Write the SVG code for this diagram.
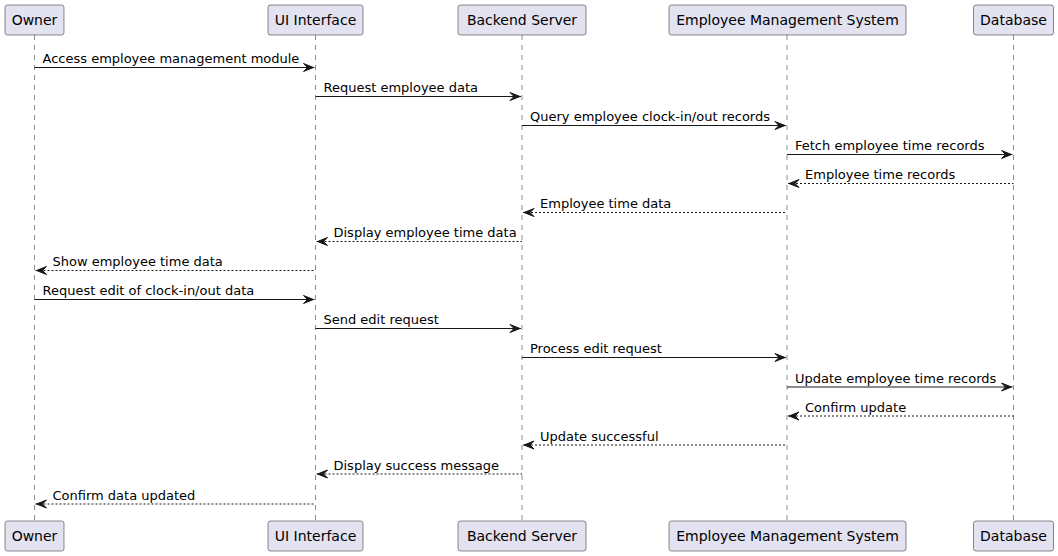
<svg xmlns="http://www.w3.org/2000/svg" width="1058" height="556" viewBox="0 0 1058 556">
<style>
.box{fill:#E2E2F0;stroke:#181818;stroke-width:0.5}
.life{stroke:#181818;stroke-width:0.5;stroke-dasharray:5,5;fill:none}
.pt{font-family:"DejaVu Sans",sans-serif;font-size:14px;fill:#000;text-anchor:middle}
.mt{font-family:"DejaVu Sans",sans-serif;font-size:13px;fill:#000}
.s{stroke:#181818;stroke-width:1;fill:none}
.d{stroke:#181818;stroke-width:1;fill:none;stroke-dasharray:2,2}
.ah{fill:#181818;stroke:#181818;stroke-width:1}
</style>
<rect width="1058" height="556" fill="#FFFFFF"/>
<g id="lifelines">
<line class="life" x1="34.5" y1="35" x2="34.5" y2="521"/>
<line class="life" x1="315.5" y1="35" x2="315.5" y2="521"/>
<line class="life" x1="522" y1="35" x2="522" y2="521"/>
<line class="life" x1="787" y1="35" x2="787" y2="521"/>
<line class="life" x1="1013.5" y1="35" x2="1013.5" y2="521"/>
</g>
<g id="owner">
<rect class="box" x="5" y="5" width="59" height="30" rx="2.5"/>
<text class="pt" x="34.5" y="25">Owner</text>
<rect class="box" x="5" y="521" width="59" height="30" rx="2.5"/>
<text class="pt" x="34.5" y="541">Owner</text>
</g>
<g id="ui">
<rect class="box" x="268" y="5" width="95" height="30" rx="2.5"/>
<text class="pt" x="315.5" y="25">UI Interface</text>
<rect class="box" x="268" y="521" width="95" height="30" rx="2.5"/>
<text class="pt" x="315.5" y="541">UI Interface</text>
</g>
<g id="backend">
<rect class="box" x="458" y="5" width="128" height="30" rx="2.5"/>
<text class="pt" x="522" y="25">Backend Server</text>
<rect class="box" x="458" y="521" width="128" height="30" rx="2.5"/>
<text class="pt" x="522" y="541">Backend Server</text>
</g>
<g id="ems">
<rect class="box" x="669" y="5" width="237" height="30" rx="2.5"/>
<text class="pt" x="787.5" y="25">Employee Management System</text>
<rect class="box" x="669" y="521" width="237" height="30" rx="2.5"/>
<text class="pt" x="787.5" y="541">Employee Management System</text>
</g>
<g id="database">
<rect class="box" x="973.5" y="5" width="80" height="30" rx="2.5"/>
<text class="pt" x="1013.5" y="25">Database</text>
<rect class="box" x="973.5" y="521" width="80" height="30" rx="2.5"/>
<text class="pt" x="1013.5" y="541">Database</text>
</g>
<g id="connectors">
<line class="s" x1="34.5" y1="67.5" x2="314.5" y2="67.5"/><polygon class="ah" points="303.5,63.5 313.5,67.5 303.5,71.5 307.5,67.5"/>
<text class="mt" x="42.5" y="63">Access employee management module</text>

<line class="s" x1="315.5" y1="96.5" x2="521" y2="96.5"/><polygon class="ah" points="510,92.5 520,96.5 510,100.5 514,96.5"/>
<text class="mt" x="323.5" y="92">Request employee data</text>

<line class="s" x1="522" y1="125.5" x2="786" y2="125.5"/><polygon class="ah" points="775,121.5 785,125.5 775,129.5 779,125.5"/>
<text class="mt" x="530" y="121">Query employee clock-in/out records</text>

<line class="s" x1="787" y1="154.5" x2="1012.5" y2="154.5"/><polygon class="ah" points="1001.5,150.5 1011.5,154.5 1001.5,158.5 1005.5,154.5"/>
<text class="mt" x="795" y="150">Fetch employee time records</text>

<line class="d" x1="788" y1="183.5" x2="1013.5" y2="183.5"/><polygon class="ah" points="799,179.5 789,183.5 799,187.5 795,183.5"/>
<text class="mt" x="805" y="179">Employee time records</text>

<line class="d" x1="523" y1="212.5" x2="787" y2="212.5"/><polygon class="ah" points="534,208.5 524,212.5 534,216.5 530,212.5"/>
<text class="mt" x="540" y="208">Employee time data</text>

<line class="d" x1="316.5" y1="241.5" x2="522" y2="241.5"/><polygon class="ah" points="327.5,237.5 317.5,241.5 327.5,245.5 323.5,241.5"/>
<text class="mt" x="333.5" y="237">Display employee time data</text>

<line class="d" x1="35.5" y1="270.5" x2="315.5" y2="270.5"/><polygon class="ah" points="46.5,266.5 36.5,270.5 46.5,274.5 42.5,270.5"/>
<text class="mt" x="52.5" y="266">Show employee time data</text>

<line class="s" x1="34.5" y1="299.5" x2="314.5" y2="299.5"/><polygon class="ah" points="303.5,295.5 313.5,299.5 303.5,303.5 307.5,299.5"/>
<text class="mt" x="42.5" y="295">Request edit of clock-in/out data</text>

<line class="s" x1="315.5" y1="328.5" x2="521" y2="328.5"/><polygon class="ah" points="510,324.5 520,328.5 510,332.5 514,328.5"/>
<text class="mt" x="323.5" y="324">Send edit request</text>

<line class="s" x1="522" y1="357.5" x2="786" y2="357.5"/><polygon class="ah" points="775,353.5 785,357.5 775,361.5 779,357.5"/>
<text class="mt" x="530" y="353">Process edit request</text>

<line class="s" x1="787" y1="387" x2="1012.5" y2="387"/><polygon class="ah" points="1001.5,383 1011.5,387 1001.5,391 1005.5,387"/>
<text class="mt" x="795" y="382.5">Update employee time records</text>

<line class="d" x1="788" y1="416" x2="1013.5" y2="416"/><polygon class="ah" points="799,412 789,416 799,420 795,416"/>
<text class="mt" x="805" y="411.5">Confirm update</text>

<line class="d" x1="523" y1="445" x2="787" y2="445"/><polygon class="ah" points="534,441 524,445 534,449 530,445"/>
<text class="mt" x="540" y="440.5">Update successful</text>

<line class="d" x1="316.5" y1="474" x2="522" y2="474"/><polygon class="ah" points="327.5,470 317.5,474 327.5,478 323.5,474"/>
<text class="mt" x="333.5" y="469.5">Display success message</text>

<line class="d" x1="35.5" y1="504" x2="315.5" y2="504"/><polygon class="ah" points="46.5,500 36.5,504 46.5,508 42.5,504"/>
<text class="mt" x="52.5" y="499.5">Confirm data updated</text>
</g>
</svg>
